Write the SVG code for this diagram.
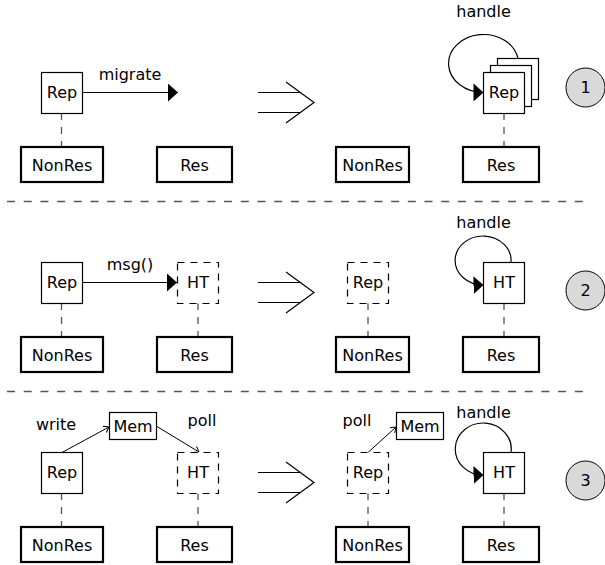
<svg xmlns="http://www.w3.org/2000/svg" width="605" height="565" viewBox="0 0 605 565">
<style>
text{font-family:"DejaVu Sans","Liberation Sans",sans-serif;font-size:16px;fill:#000;text-anchor:middle}
.box{fill:#fff;stroke:#000;stroke-width:1.2}
.dbox{fill:#fff;stroke:#000;stroke-width:1.2;stroke-dasharray:7 6}
.res{fill:#fff;stroke:#000;stroke-width:2.2}
.link{stroke:#555;stroke-width:1.3;stroke-dasharray:7 7;fill:none}
.sep{stroke:#555;stroke-width:1.3;stroke-dasharray:8 8.7;fill:none}
.arr{stroke:#000;stroke-width:1.2;fill:none;marker-end:url(#tri)}
.oarr{stroke:#000;stroke-width:1;fill:none;marker-end:url(#open)}
.imp{stroke:#000;stroke-width:1.2;fill:none}
.num{fill:#d9d9d9;stroke:#000;stroke-width:1}
</style>
<defs>
<marker id="tri" markerUnits="userSpaceOnUse" viewBox="0 0 10 18" refX="10" refY="9" markerWidth="10" markerHeight="18" orient="auto"><path d="M0,0 L10,9 L0,18 Z" fill="#000"/></marker>
<marker id="open" markerUnits="userSpaceOnUse" viewBox="0 0 6 8" refX="5.5" refY="4" markerWidth="6" markerHeight="8" orient="auto"><path d="M0.5,0.5 L5.5,4 L0.5,7.5" fill="none" stroke="#000" stroke-width="1"/></marker>
</defs>

<g id="separators">
<line class="sep" x1="7" y1="201.5" x2="587" y2="201.5"/>
<line class="sep" x1="7" y1="391.5" x2="587" y2="391.5"/>
</g>

<g id="connectors">
<!-- panel 1 -->
<line class="link" x1="61.5" y1="113" x2="61.5" y2="147"/>
<line class="arr" x1="82" y1="92.5" x2="178" y2="92.5"/>
<line class="link" x1="504" y1="113" x2="504" y2="147"/>
<path class="arr" d="M518,58.5 A35,29 0 1 0 483.5,92.5"/>
<!-- panel 2 -->
<line class="link" x1="61.5" y1="303" x2="61.5" y2="337"/>
<line class="arr" x1="82" y1="282.5" x2="177" y2="282.5"/>
<line class="link" x1="198" y1="303" x2="198" y2="337"/>
<line class="link" x1="368" y1="303" x2="368" y2="337"/>
<line class="link" x1="504" y1="303" x2="504" y2="337"/>
<path class="arr" d="M511,262.5 A28,24.5 0 1 0 483.5,285"/>
<!-- panel 3 -->
<line class="link" x1="61.5" y1="493" x2="61.5" y2="527"/>
<line class="link" x1="198" y1="493" x2="198" y2="527"/>
<line class="oarr" x1="62" y1="452.5" x2="109" y2="427"/>
<line class="oarr" x1="157" y1="426.5" x2="199" y2="452"/>
<line class="link" x1="368" y1="493" x2="368" y2="527"/>
<line class="oarr" x1="368" y1="452.5" x2="396" y2="427"/>
<line class="link" x1="504" y1="493" x2="504" y2="527"/>
<path class="arr" d="M511,452.5 A28,26 0 1 0 483.5,475"/>
</g>

<g id="labels">
<text x="130" y="80">migrate</text>
<text x="483.5" y="17">handle</text>
<text x="130" y="270">msg()</text>
<text x="483.5" y="228">handle</text>
<text x="56" y="430">write</text>
<text x="202" y="426">poll</text>
<text x="357" y="426">poll</text>
<text x="483.5" y="418">handle</text>
</g>

<g id="implies">
<g id="implies1"><line class="imp" x1="258" y1="92.5" x2="300" y2="92.5"/><line class="imp" x1="258" y1="112.5" x2="300" y2="112.5"/><polyline class="imp" points="286,82 314,102.5 286,123"/></g>
<g id="implies2"><line class="imp" x1="258" y1="282.5" x2="300" y2="282.5"/><line class="imp" x1="258" y1="302.5" x2="300" y2="302.5"/><polyline class="imp" points="286,272 314,292.5 286,313"/></g>
<g id="implies3"><line class="imp" x1="258" y1="472.5" x2="300" y2="472.5"/><line class="imp" x1="258" y1="492.5" x2="300" y2="492.5"/><polyline class="imp" points="286,462 314,482.5 286,503"/></g>
</g>

<!-- Panel 1 nodes -->
<g id="p1-rep"><rect class="box" x="41.5" y="72.5" width="41" height="41"/><text x="62" y="98">Rep</text></g>
<g id="p1-nonres"><rect class="res" x="21" y="147" width="82" height="35"/><text x="62" y="170.5">NonRes</text></g>
<g id="p1-res"><rect class="res" x="157" y="147" width="75" height="35"/><text x="194.5" y="170.5">Res</text></g>
<g id="p1-nonres2"><rect class="res" x="336" y="147" width="73" height="35"/><text x="372.5" y="170.5">NonRes</text></g>
<g id="p1-res2"><rect class="res" x="463" y="147" width="76" height="35"/><text x="501" y="170.5">Res</text></g>
<g id="p1-reps">
<rect class="box" x="497.5" y="58.5" width="41" height="41"/>
<rect class="box" x="490.5" y="65.5" width="41" height="41"/>
<rect class="box" x="483.5" y="72.5" width="41" height="41"/>
<text x="504" y="98">Rep</text>
</g>
<g id="step1"><circle class="num" cx="585.5" cy="87.5" r="19.5"/><text x="585.5" y="93">1</text></g>

<!-- Panel 2 nodes -->
<g id="p2-rep"><rect class="box" x="41.5" y="262.5" width="41" height="41"/><text x="62" y="288">Rep</text></g>
<g id="p2-ht"><rect class="dbox" x="177.5" y="262.5" width="41" height="41"/><text x="198" y="288">HT</text></g>
<g id="p2-nonres"><rect class="res" x="21" y="337" width="82" height="35"/><text x="62" y="360.5">NonRes</text></g>
<g id="p2-res"><rect class="res" x="157" y="337" width="75" height="35"/><text x="194.5" y="360.5">Res</text></g>
<g id="p2-rep2"><rect class="dbox" x="347.5" y="262.5" width="41" height="41"/><text x="368" y="288">Rep</text></g>
<g id="p2-nonres2"><rect class="res" x="336" y="337" width="73" height="35"/><text x="372.5" y="360.5">NonRes</text></g>
<g id="p2-ht2"><rect class="box" x="483.5" y="262.5" width="41" height="41"/><text x="504" y="288">HT</text></g>
<g id="p2-res2"><rect class="res" x="463" y="337" width="76" height="35"/><text x="501" y="360.5">Res</text></g>
<g id="step2"><circle class="num" cx="585.5" cy="290.5" r="19.5"/><text x="585.5" y="296">2</text></g>

<!-- Panel 3 nodes -->
<g id="p3-rep"><rect class="box" x="41.5" y="452.5" width="41" height="41"/><text x="62" y="478">Rep</text></g>
<g id="p3-mem"><rect class="box" x="109.5" y="412.5" width="47" height="27"/><text x="133" y="432">Mem</text></g>
<g id="p3-ht"><rect class="dbox" x="177.5" y="452.5" width="41" height="41"/><text x="198" y="478">HT</text></g>
<g id="p3-nonres"><rect class="res" x="21" y="527" width="82" height="35"/><text x="62" y="550.5">NonRes</text></g>
<g id="p3-res"><rect class="res" x="157" y="527" width="75" height="35"/><text x="194.5" y="550.5">Res</text></g>
<g id="p3-rep2"><rect class="dbox" x="347.5" y="452.5" width="41" height="41"/><text x="368" y="478">Rep</text></g>
<g id="p3-mem2"><rect class="box" x="396.5" y="412.5" width="47" height="27"/><text x="420" y="432">Mem</text></g>
<g id="p3-nonres2"><rect class="res" x="336" y="527" width="73" height="35"/><text x="372.5" y="550.5">NonRes</text></g>
<g id="p3-ht2"><rect class="box" x="483.5" y="452.5" width="41" height="41"/><text x="504" y="478">HT</text></g>
<g id="p3-res2"><rect class="res" x="463" y="527" width="76" height="35"/><text x="501" y="550.5">Res</text></g>
<g id="step3"><circle class="num" cx="585.5" cy="480.5" r="19.5"/><text x="585.5" y="486">3</text></g>
</svg>
